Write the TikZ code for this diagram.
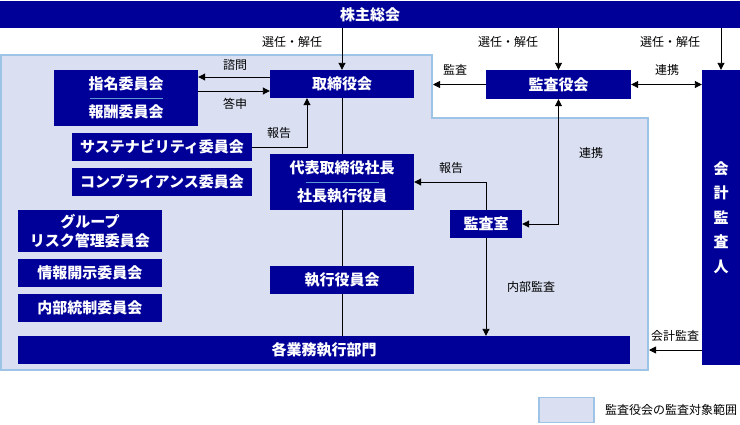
\documentclass[tikz,border=0pt]{standalone}
\usepackage{fontspec}
\setmainfont{Noto Sans CJK JP}
\usetikzlibrary{arrows.meta}
\definecolor{navy}{HTML}{000099}
\definecolor{auditfill}{HTML}{DAE0F2}
\definecolor{auditline}{HTML}{9DC3E6}
\definecolor{sepline}{HTML}{5B9BD5}
\tikzset{org/.style={fill=navy,text=white,inner sep=0pt,align=center,font=\bfseries\fontsize{15}{28}\selectfont},lbl/.style={inner sep=0pt,font=\fontsize{12}{14}\selectfont},link/.style={draw=black,line width=.9pt,-{Triangle[length=7pt,width=7pt]}},twoway/.style={link,{Triangle[length=7pt,width=7pt]}-{Triangle[length=7pt,width=7pt]}},spine/.style={draw=black,line width=.9pt},sep/.style={draw=sepline,line width=1pt}}
\begin{document}
\begin{tikzpicture}[x=1pt,y=-1pt]
\useasboundingbox (0,0) rectangle (740,424);
\draw[draw=auditline,fill=auditfill,line width=1.5pt] (1,55) -- (432,55) -- (432,118) -- (648,118) -- (648,370) -- (1,370) -- cycle;
\node[org,minimum width=740pt,minimum height=27pt] (gm) at (370,14.5) {株主総会};
\node[org,minimum width=144pt,minimum height=28pt] (bod) at (342,84) {取締役会};
\node[org,minimum width=145pt,minimum height=29pt] (asb) at (558.5,84.5) {監査役会};
\node[org,minimum width=38pt,minimum height=295pt,font=\bfseries\fontsize{15}{24.5}\selectfont] (ext) at (721,217.5) {会\\計\\監\\査\\人};
\node[org,minimum width=144pt,minimum height=56pt] (nom) at (126,98) {指名委員会\\報酬委員会};
\node[org,minimum width=180pt,minimum height=28pt] (sus) at (162,147) {サステナビリティ委員会};
\node[org,minimum width=180pt,minimum height=28pt] (cmp) at (162,182) {コンプライアンス委員会};
\node[org,minimum width=144pt,minimum height=56pt] (rep) at (342,182) {代表取締役社長\\社長執行役員};
\node[org,minimum width=144pt,minimum height=42pt,font=\bfseries\fontsize{15}{19}\selectfont] (grp) at (90,231) {グループ\\リスク管理委員会};
\node[org,minimum width=144pt,minimum height=28pt] (dis) at (90,273) {情報開示委員会};
\node[org,minimum width=144pt,minimum height=28pt] (ict) at (90,308) {内部統制委員会};
\node[org,minimum width=144pt,minimum height=28pt] (exe) at (342,280) {執行役員会};
\node[org,minimum width=72pt,minimum height=28pt] (ias) at (486,224) {監査室};
\node[org,minimum width=612pt,minimum height=28pt] (ops) at (324,350) {各業務執行部門};
\coordinate (edgeA) at (433,84.5);
\coordinate (edgeB) at (649,350);
\node[lbl] (l1) at (292,42) {選任・解任};
\node[lbl] (l2) at (508,42) {選任・解任};
\node[lbl] (l3) at (670,42) {選任・解任};
\node[lbl] (l4) at (235,65) {諮問};
\node[lbl] (l5) at (235,104) {答申};
\node[lbl] (l6) at (279,133) {報告};
\node[lbl] (l7) at (455,70) {監査};
\node[lbl] (l8) at (667,70) {連携};
\node[lbl] (l9) at (591,153) {連携};
\node[lbl] (l10) at (451,168) {報告};
\node[lbl] (l11) at (531,287) {内部監査};
\node[lbl] (l12) at (675,336) {会計監査};
\draw[sep] ([xshift=-36pt]nom.center) -- ([xshift=37pt]nom.center);
\draw[sep] ([xshift=-36pt]rep.center) -- ([xshift=37pt]rep.center);
\foreach \x in {bod,asb,ext}\draw[link] (gm.south -| \x.north) -- (\x.north);
\draw[link] ([yshift=7pt]bod.west) -- ([yshift=7pt]bod.west -| nom.east);
\draw[link] ([yshift=-7pt]bod.west -| nom.east) -- ([yshift=-7pt]bod.west);
\draw[link] (sus.east) -| ([xshift=-35pt]bod.south);
\foreach \a/\b in {bod/rep,rep/exe}\draw[spine] (\a.south) -- (\b.north);
\draw[spine] (exe.south) -- (exe.south |- ops.north);
\draw[link] (asb.west) -- (edgeA);
\draw[twoway] (asb.east) -- (asb.east -| ext.west);
\draw[twoway] (asb.south) |- (ias.east);
\draw[link] (ias.north) |- (rep.east);
\draw[link] (ias.south) -- (ias.south |- ops.north);
\draw[link] (ext.west |- edgeB) -- (edgeB);
\node[draw=auditline,fill=auditfill,line width=1.5pt,minimum width=55pt,minimum height=25pt,inner sep=0pt] (key) at (566.5,410) {};
\node[lbl,anchor=west] (keytext) at (605,410) {監査役会の監査対象範囲};
\end{tikzpicture}
\end{document}
